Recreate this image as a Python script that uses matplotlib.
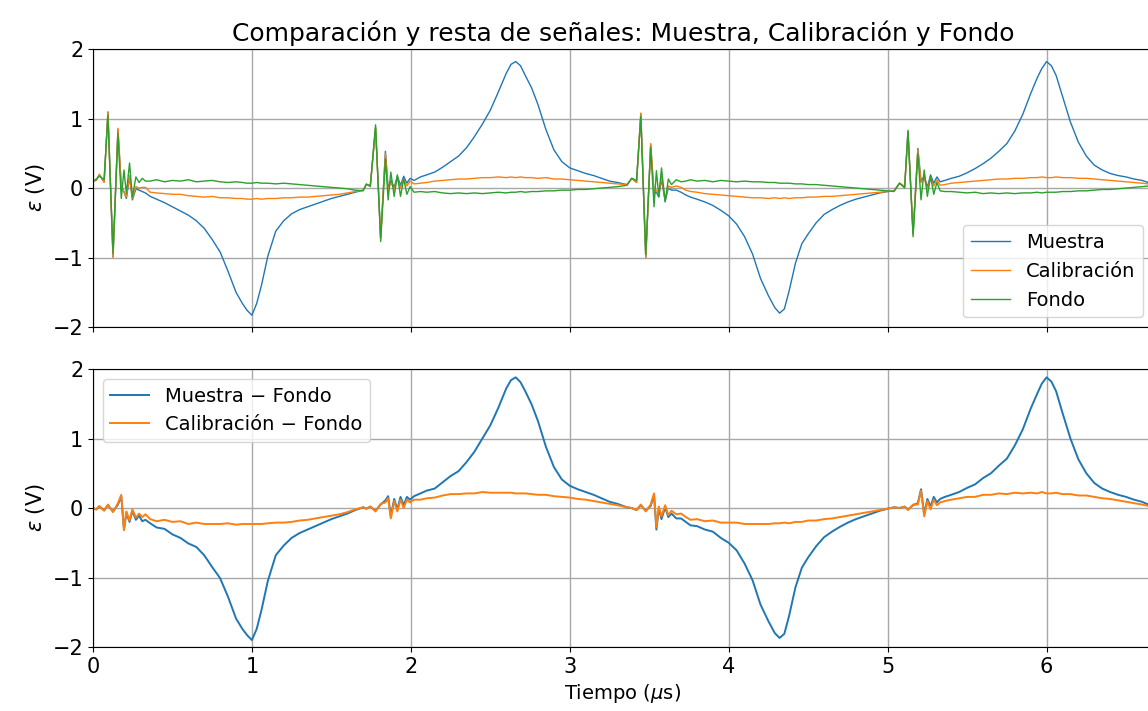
import numpy as np
import matplotlib
matplotlib.use("Agg")
import matplotlib.pyplot as plt

# Tiempo en microsegundos (muestreo mas denso en los transitorios)
t_us = np.array([
    0.00, 0.02, 0.04, 0.07, 0.094, 0.126, 0.157, 0.178, 0.195, 0.21, 0.23, 0.248, 0.27, 0.29, 0.31, 0.33,
    0.36, 0.40, 0.45, 0.50, 0.55, 0.60, 0.65, 0.70, 0.75, 0.80, 0.85, 0.90, 0.94, 0.97, 1.00,
    1.03, 1.06, 1.10, 1.15, 1.20, 1.25, 1.30, 1.35, 1.40, 1.45, 1.50, 1.55, 1.60, 1.65, 1.70,
    1.72, 1.745, 1.778, 1.81, 1.84, 1.857, 1.874, 1.895, 1.915, 1.935, 1.955, 1.975, 1.995, 2.02,
    2.06, 2.10, 2.15, 2.20, 2.25, 2.30, 2.35, 2.40, 2.45, 2.50, 2.55, 2.60, 2.63, 2.66, 2.69,
    2.72, 2.76, 2.80, 2.85, 2.90, 2.95, 3.00, 3.05, 3.10, 3.15, 3.20, 3.25, 3.30, 3.36,
    3.39, 3.42, 3.447, 3.478, 3.509, 3.53, 3.545, 3.56, 3.577, 3.60, 3.62, 3.64, 3.67, 3.70,
    3.73, 3.76, 3.80, 3.85, 3.90, 3.95, 4.00, 4.05, 4.10, 4.15, 4.20, 4.25, 4.29, 4.32, 4.35,
    4.38, 4.42, 4.46, 4.50, 4.55, 4.60, 4.65, 4.70, 4.75, 4.80, 4.85, 4.90, 4.95, 5.00, 5.04,
    5.075, 5.107, 5.128, 5.16, 5.19, 5.21, 5.23, 5.25, 5.27, 5.29, 5.31, 5.33, 5.36,
    5.40, 5.45, 5.50, 5.55, 5.60, 5.65, 5.70, 5.75, 5.80, 5.85, 5.90, 5.94, 5.97, 6.00,
    6.03, 6.06, 6.10, 6.15, 6.20, 6.25, 6.30, 6.35, 6.40, 6.45, 6.50, 6.55, 6.60, 6.64,
])

muestra = np.array([
    0.10, 0.11, 0.19, 0.09, 1.09, -0.99, 0.84, 0.02, -0.05, -0.15, 0.16, -0.17, -0.01, -0.03, -0.05, -0.07,
    -0.12, -0.16, -0.21, -0.27, -0.33, -0.39, -0.47, -0.58, -0.74, -0.92, -1.20, -1.50, -1.66, -1.76, -1.83,
    -1.66, -1.40, -0.98, -0.62, -0.47, -0.37, -0.31, -0.27, -0.23, -0.19, -0.15, -0.12, -0.09, -0.06, -0.03,
    0.05, 0.04, 0.87, -0.72, 0.53, 0.00, 0.11, 0.01, 0.17, 0.04, 0.17, 0.07, 0.14, 0.11,
    0.16, 0.19, 0.23, 0.30, 0.38, 0.46, 0.58, 0.74, 0.92, 1.12, 1.38, 1.65, 1.78, 1.82, 1.76,
    1.62, 1.44, 1.20, 0.84, 0.55, 0.38, 0.29, 0.25, 0.21, 0.18, 0.14, 0.10, 0.08, 0.05,
    0.14, 0.08, 1.07, -1.00, 0.62, -0.08, -0.06, -0.13, 0.13, -0.19, 0.00, -0.03, -0.03, -0.06,
    -0.10, -0.13, -0.16, -0.20, -0.25, -0.32, -0.40, -0.52, -0.70, -0.95, -1.30, -1.55, -1.72, -1.80, -1.74,
    -1.48, -1.08, -0.80, -0.66, -0.50, -0.38, -0.31, -0.25, -0.20, -0.16, -0.13, -0.10, -0.07, -0.05, -0.04,
    0.07, 0.02, 0.81, -0.66, 0.57, 0.10, 0.17, 0.01, 0.19, 0.07, 0.16, 0.09, 0.11,
    0.14, 0.17, 0.22, 0.28, 0.35, 0.43, 0.53, 0.64, 0.82, 1.06, 1.36, 1.58, 1.72, 1.82,
    1.76, 1.62, 1.32, 0.95, 0.66, 0.46, 0.33, 0.26, 0.21, 0.18, 0.16, 0.13, 0.11, 0.08,
])

calibracion = np.array([
    0.10, 0.11, 0.20, 0.08, 1.10, -1.00, 0.86, 0.04, -0.06, -0.13, 0.18, -0.15, 0.02, 0.00, 0.01, 0.01,
    -0.06, -0.07, -0.08, -0.09, -0.09, -0.11, -0.12, -0.13, -0.12, -0.14, -0.14, -0.15, -0.15, -0.16, -0.16,
    -0.15, -0.16, -0.15, -0.15, -0.14, -0.14, -0.13, -0.13, -0.12, -0.11, -0.10, -0.09, -0.07, -0.05, -0.03,
    0.05, 0.04, 0.86, -0.71, 0.50, -0.03, 0.08, -0.02, 0.14, 0.00, 0.13, 0.03, 0.10, 0.06,
    0.07, 0.08, 0.10, 0.11, 0.12, 0.13, 0.13, 0.14, 0.15, 0.15, 0.16, 0.15, 0.16, 0.15, 0.16,
    0.15, 0.15, 0.14, 0.15, 0.13, 0.13, 0.12, 0.11, 0.10, 0.09, 0.08, 0.07, 0.06, 0.05,
    0.14, 0.08, 1.08, -1.01, 0.64, -0.06, -0.03, -0.10, 0.17, -0.16, 0.03, 0.01, 0.03, 0.01,
    -0.03, -0.05, -0.06, -0.08, -0.09, -0.10, -0.11, -0.12, -0.13, -0.14, -0.14, -0.15, -0.14, -0.15, -0.14,
    -0.15, -0.14, -0.14, -0.13, -0.13, -0.12, -0.12, -0.11, -0.10, -0.09, -0.08, -0.07, -0.06, -0.05, -0.04,
    0.07, 0.02, 0.80, -0.65, 0.55, 0.08, 0.14, -0.02, 0.15, 0.03, 0.12, 0.04, 0.05,
    0.07, 0.08, 0.09, 0.10, 0.11, 0.12, 0.13, 0.13, 0.14, 0.14, 0.15, 0.15, 0.16, 0.15,
    0.15, 0.16, 0.15, 0.15, 0.14, 0.14, 0.13, 0.12, 0.11, 0.10, 0.09, 0.08, 0.07, 0.06,
])

fondo = np.array([
    0.10, 0.13, 0.17, 0.12, 1.05, -0.94, 0.79, -0.15, 0.26, -0.08, 0.36, -0.13, 0.16, 0.08, 0.14, 0.10,
    0.10, 0.12, 0.09, 0.11, 0.10, 0.12, 0.09, 0.10, 0.11, 0.09, 0.08, 0.09, 0.08, 0.07, 0.07,
    0.08, 0.07, 0.07, 0.06, 0.07, 0.06, 0.05, 0.04, 0.03, 0.02, 0.01, 0.00, -0.01, -0.03, -0.04,
    0.06, 0.02, 0.91, -0.77, 0.42, -0.17, 0.23, -0.12, 0.19, -0.12, 0.13, -0.09, 0.02, -0.06,
    -0.05, -0.06, -0.05, -0.07, -0.08, -0.07, -0.08, -0.07, -0.08, -0.07, -0.06, -0.07, -0.06, -0.06, -0.05,
    -0.06, -0.05, -0.05, -0.04, -0.04, -0.03, -0.03, -0.02, -0.02, -0.01, 0.00, 0.01, 0.02, 0.04,
    0.14, 0.11, 1.03, -0.96, 0.59, -0.27, 0.25, -0.12, 0.29, -0.20, 0.13, 0.05, 0.12, 0.09,
    0.10, 0.12, 0.10, 0.11, 0.09, 0.11, 0.10, 0.09, 0.10, 0.09, 0.09, 0.08, 0.08, 0.07, 0.07,
    0.07, 0.06, 0.06, 0.05, 0.05, 0.04, 0.03, 0.02, 0.01, 0.00, -0.01, -0.02, -0.03, -0.04, -0.05,
    0.07, 0.00, 0.83, -0.70, 0.50, -0.17, 0.26, -0.12, 0.17, -0.09, 0.08, -0.04, -0.05,
    -0.05, -0.06, -0.07, -0.06, -0.08, -0.07, -0.08, -0.07, -0.08, -0.07, -0.07, -0.06, -0.07, -0.06,
    -0.06, -0.06, -0.05, -0.05, -0.04, -0.04, -0.03, -0.02, -0.02, -0.01, 0.00, 0.01, 0.02, 0.03,
])

x_ticks = [0, 1, 2, 3, 4, 5, 6]
y_ticks = [-2, -1, 0, 1, 2]

fig = plt.figure(figsize=(11.48, 7.11), dpi=100)
ax1 = fig.add_axes([0.081, 0.540, 0.923, 0.391])
ax2 = fig.add_axes([0.081, 0.090, 0.923, 0.391], sharex=ax1)

ax1.plot(t_us, muestra, color='tab:blue', lw=1.0, label='Muestra')
ax1.plot(t_us, calibracion, color='tab:orange', lw=1.0, label='Calibración')
ax1.plot(t_us, fondo, color='tab:green', lw=1.0, label='Fondo')
ax1.set_title('Comparación y resta de señales: Muestra, Calibración y Fondo', fontsize=18)
ax1.legend(loc='lower right', fontsize=14)
ax1.tick_params(labelbottom=False)

ax2.plot(t_us, muestra - fondo, color='tab:blue', lw=1.4, label='Muestra − Fondo')
ax2.plot(t_us, calibracion - fondo, color='tab:orange', lw=1.4, label='Calibración − Fondo')
ax2.legend(loc='upper left', fontsize=14)
ax2.set_xlabel(r'Tiempo ($\mu$s)', fontsize=14)

for ax in (ax1, ax2):
    ax.set_xlim(0, 6.667)
    ax.set_ylim(-2, 2)
    ax.set_xticks(x_ticks)
    ax.set_yticks(y_ticks)
    ax.set_ylabel(r'$\varepsilon$ (V)', fontsize=15)
    ax.tick_params(labelsize=15)
    ax.grid(True, color='#a8a8a8', lw=1.0)

fig.savefig('out.png', dpi=100)
